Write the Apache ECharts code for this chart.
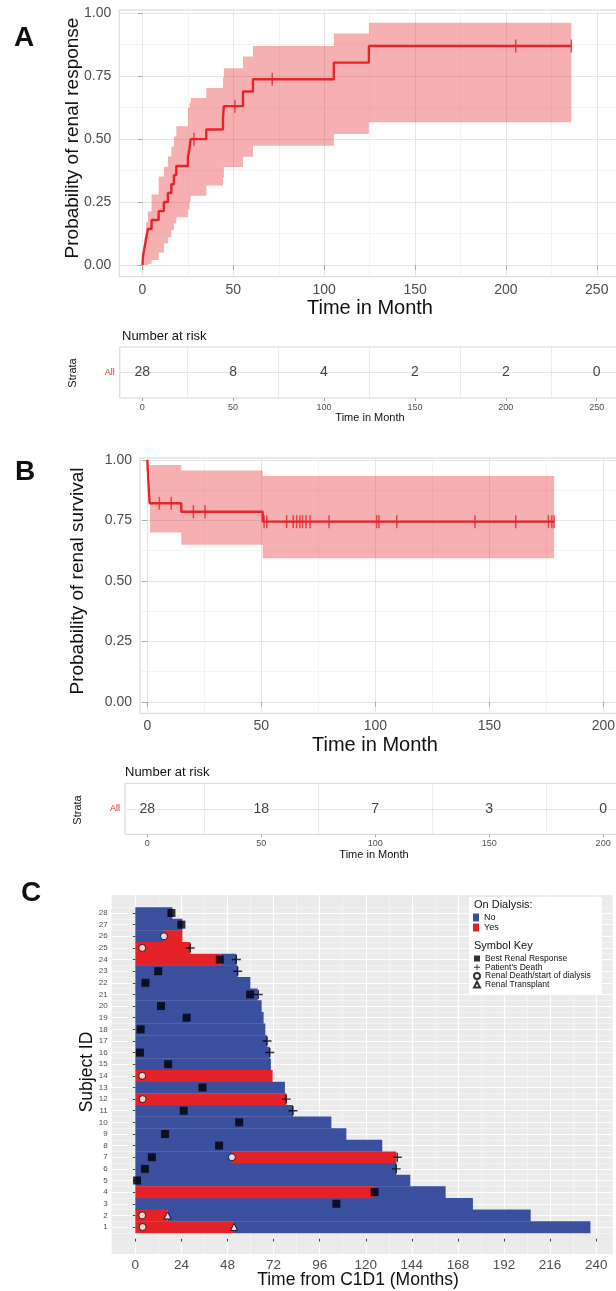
<!DOCTYPE html>
<html><head><meta charset="utf-8">
<script src="https://cdn.jsdelivr.net/npm/echarts@6/dist/echarts.min.js"></script>
<style>html,body{margin:0;padding:0;background:#fff}#c{width:616px;height:1291px}</style>
</head><body><div id="c"></div>
<script>
// ---------- Panel A: renal response (cumulative) ----------
const aTimes = [0, 0.3, 1.2, 2.0, 3.0, 5.0, 8.9, 11.8, 14.0, 15.9, 17.3, 18.6, 25.0, 25.9, 26.5, 35.1, 44.3, 44.8, 55.3, 60.8, 105.3, 124.6, 236];
const aProb  = [0, 0.036, 0.071, 0.107, 0.143, 0.179, 0.214, 0.25, 0.286, 0.321, 0.357, 0.393, 0.429, 0.464, 0.5, 0.538, 0.585, 0.631, 0.689, 0.738, 0.804, 0.87, 0.87];
const aBandTimes = [0.3, 1.2, 2.0, 3.0, 5.0, 8.9, 11.8, 14.0, 15.9, 17.3, 18.6, 25.0, 25.9, 26.5, 35.1, 44.3, 44.8, 55.3, 60.8, 105.3, 124.6, 236];
const aUpper = [0.07, 0.11, 0.17, 0.213, 0.28, 0.352, 0.39, 0.431, 0.471, 0.51, 0.551, 0.624, 0.645, 0.663, 0.703, 0.745, 0.782, 0.828, 0.87, 0.92, 0.962, 0.962];
const aLower = [0, 0, 0, 0.005, 0.02, 0.05, 0.085, 0.11, 0.14, 0.165, 0.19, 0.22, 0.25, 0.275, 0.316, 0.35, 0.389, 0.43, 0.474, 0.52, 0.567, 0.567];
const aCensorTimes = [28.3, 50.9, 71.4, 205.4, 236];
const aCensorProb  = [0.5, 0.631, 0.738, 0.87, 0.87];
const aXTicks = [0, 50, 100, 150, 200, 250];
const aRiskTimes = [0, 50, 100, 150, 200, 250];
const aRiskCounts = [28, 8, 4, 2, 2, 0];

// ---------- Panel B: renal survival ----------
const bTimes = [0, 0.2, 0.4, 0.6, 0.8, 1.0, 14.9, 50.6, 178.4];
const bProb  = [1, 0.964, 0.929, 0.893, 0.857, 0.821, 0.786, 0.745, 0.745];
const bBandTimes = [1.2, 14.9, 50.6, 178.4];
const bUpper = [0.979, 0.956, 0.934, 0.934];
const bLower = [0.70, 0.649, 0.594, 0.594];
const bCensorTimes = [5.3, 10.5, 20.2, 25.3, 51.2, 52.4, 61.1, 64.0, 65.5, 66.9, 68.1, 69.6, 71.4, 79.7, 100.6, 101.6, 109.4, 143.7, 161.6, 175.9, 177.4, 178.4];
const bCensorProb  = [0.821, 0.821, 0.786, 0.786, 0.745, 0.745, 0.745, 0.745, 0.745, 0.745, 0.745, 0.745, 0.745, 0.745, 0.745, 0.745, 0.745, 0.745, 0.745, 0.745, 0.745, 0.745];
const bXTicks = [0, 50, 100, 150, 200];
const bRiskTimes = [0, 50, 100, 150, 200];
const bRiskCounts = [28, 18, 7, 3, 0];

const kmYTicks = [0, 0.25, 0.5, 0.75, 1];
const kmYMinor = [0.125, 0.375, 0.625, 0.875];

// ---------- Panel C: swimmer plot ----------
// [subject, start month, end month]
const cNotOnDialysis = [
  [28, 0, 19.3], [27, 0, 24.5], [26, 0, 14.9], [24, 44.3, 52.6], [23, 0, 53.3], [22, 0, 59.9],
  [21, 0, 63.7], [20, 0, 65.8], [19, 0, 66.8], [18, 0, 67.7], [17, 0, 68.6], [16, 0, 70.0],
  [15, 0, 70.6], [13, 0, 77.9], [11, 0, 82.1], [10, 0, 102.1], [9, 0, 109.9], [8, 0, 128.6],
  [7, 0, 50.3], [6, 0, 135.9], [5, 0, 143.2], [4, 123.8, 161.6], [3, 0, 175.8], [2, 16.8, 205.9],
  [1, 51.4, 237.0]
];
const cOnDialysis = [
  [26, 14.9, 24.5], [25, 0, 28.6], [24, 0, 44.3], [14, 0, 71.5], [12, 0, 78.6],
  [7, 50.3, 135.9], [4, 0, 123.8], [2, 0, 16.8], [1, 0, 51.4]
];
// [month, subject]
const cBestResponse = [[18.8, 28], [24.0, 27], [44.0, 24], [11.9, 23], [5.3, 22], [59.8, 21], [13.4, 20], [26.7, 19], [2.8, 18], [2.4, 16], [17.1, 15], [35.0, 13], [25.2, 11], [54.1, 10], [15.5, 9], [43.6, 8], [8.6, 7], [5.0, 6], [0.9, 5], [124.6, 4], [104.7, 3]];
const cDeath = [[28.6, 25], [52.6, 24], [53.3, 23], [64.0, 21], [68.6, 17], [70.0, 16], [78.6, 12], [82.1, 11], [136.4, 7], [135.9, 6]];
const cRenalDeath = [[14.9, 26], [3.6, 25], [3.6, 14], [3.8, 12], [50.3, 7], [3.6, 2], [3.8, 1]];
const cTransplant = [[16.8, 2], [51.4, 1]];
const cXTicks = [0, 24, 48, 72, 96, 120, 144, 168, 192, 216, 240];
const cXMinor = [12, 36, 60, 84, 108, 132, 156, 180, 204, 228];
const cSubjects = [1,2,3,4,5,6,7,8,9,10,11,12,13,14,15,16,17,18,19,20,21,22,23,24,25,26,27,28];
const cYMinor = [0.5,1.5,2.5,3.5,4.5,5.5,6.5,7.5,8.5,9.5,10.5,11.5,12.5,13.5,14.5,15.5,16.5,17.5,18.5,19.5,20.5,21.5,22.5,23.5,24.5,25.5,26.5,27.5,28.5];

// ---------- styling ----------
const FONT = "'Liberation Sans', Arial, Helvetica, sans-serif";
const RED = '#e4262a';
const BAND = 'rgba(232, 40, 46, 0.37)';
const BLUE = '#3b4f9f';
const DRED = '#e52228';
const GRID = '#e6e6e6';
const GRIDMIN = '#efefef';
const LABEL = '#4d4d4d';

const zip = (a, b) => a.map((v, i) => [v, b[i]]);

function bandRender(times, upper, lower) {
  return function (params, api) {
    if (params.dataIndex !== 0) return null;
    const pts = [];
    for (let i = 0; i < times.length - 1; i++) {
      pts.push(api.coord([times[i], upper[i]]));
      pts.push(api.coord([times[i + 1], upper[i]]));
    }
    for (let i = times.length - 2; i >= 0; i--) {
      pts.push(api.coord([times[i + 1], lower[i]]));
      pts.push(api.coord([times[i], lower[i]]));
    }
    return { type: 'polygon', shape: { points: pts }, style: { fill: BAND } };
  };
}
function segRender(params, api) {
  const y = api.value(0), s = api.value(1), e = api.value(2);
  const a = api.coord([s, y]), b = api.coord([e, y]);
  const h = api.size([0, 1])[1];
  return { type: 'rect', shape: { x: a[0], y: a[1] - h / 2, width: b[0] - a[0], height: h + 0.3 }, style: { fill: api.visual('color') } };
}

function mainX(grid, min, max, ticks) {
  return { gridIndex: grid, type: 'value', min, max, position: 'bottom',
    axisLine: { show: false },
    axisTick: { show: true, length: 5, lineStyle: { color: '#aaaaaa' }, customValues: ticks },
    axisLabel: { customValues: ticks, fontSize: 14, color: LABEL, margin: 6, fontFamily: FONT },
    splitLine: { show: true, lineStyle: { color: GRID, width: 1 } } };
}
function minorX(grid, min, max, vals, color, width) {
  return { gridIndex: grid, type: 'value', min, max, position: 'top',
    axisLine: { show: false }, axisTick: { show: false, customValues: vals }, axisLabel: { show: false },
    splitLine: { show: true, lineStyle: { color, width } } };
}
function mainY(grid, min, max) {
  return { gridIndex: grid, type: 'value', min, max, position: 'left',
    axisLine: { show: false },
    axisTick: { show: true, length: 5, lineStyle: { color: '#aaaaaa' }, customValues: kmYTicks },
    axisLabel: { customValues: kmYTicks, fontSize: 14, color: LABEL, margin: 8, fontFamily: FONT, formatter: v => v.toFixed(2) },
    splitLine: { show: true, lineStyle: { color: GRID, width: 1 } } };
}
function minorY(grid, min, max, vals, color, width) {
  return { gridIndex: grid, type: 'value', min, max, position: 'right',
    axisLine: { show: false }, axisTick: { show: false, customValues: vals }, axisLabel: { show: false },
    splitLine: { show: true, lineStyle: { color, width } } };
}
function riskX(grid, min, max, ticks) {
  return { gridIndex: grid, type: 'value', min, max, position: 'bottom',
    axisLine: { show: false },
    axisTick: { show: true, length: 3, lineStyle: { color: '#aaaaaa' }, customValues: ticks },
    axisLabel: { customValues: ticks, fontSize: 9, color: LABEL, margin: 5, fontFamily: FONT },
    splitLine: { show: false } };
}
function riskY(grid) {
  return { gridIndex: grid, type: 'value', min: 0, max: 2, position: 'left',
    axisLine: { show: false },
    axisTick: { show: true, length: 3, lineStyle: { color: '#aaaaaa' }, customValues: [1] },
    axisLabel: { customValues: [1], fontSize: 9, color: RED, margin: 5, fontFamily: FONT, formatter: () => 'All' },
    splitLine: { show: true, lineStyle: { color: GRID, width: 1 } } };
}

const gridBase = { show: true, backgroundColor: '#fff', borderColor: '#d4d4d4', borderWidth: 1, containLabel: false, outerBoundsMode: 'none' };

const option = {
  animation: false,
  textStyle: { fontFamily: FONT },
  grid: [
    Object.assign({}, gridBase, { left: 119.3, top: 10, width: 500, height: 266.7 }),   // A plot
    Object.assign({}, gridBase, { left: 119.8, top: 347, width: 500, height: 51 }),     // A risk
    Object.assign({}, gridBase, { left: 140, top: 458, width: 480, height: 255.3 }),    // B plot
    Object.assign({}, gridBase, { left: 125, top: 783.3, width: 495, height: 51 }),     // B risk
    { show: true, backgroundColor: '#ebebeb', borderWidth: 0, left: 111.7, top: 895, width: 501, height: 359, containLabel: false, outerBoundsMode: 'none' } // C
  ],
  xAxis: [
    mainX(0, -12.76, 262.4, aXTicks),
    minorX(0, -12.76, 262.4, [25, 75, 125, 175, 225], GRIDMIN, 0.7),
    riskX(1, -12.3, 262.7, aXTicks),
    minorX(1, -12.3, 262.7, [25, 75, 125, 175, 225], GRID, 0.8),
    mainX(2, -3.2, 207.3, bXTicks),
    minorX(2, -3.2, 207.3, [25, 75, 125, 175], GRIDMIN, 0.7),
    riskX(3, -9.74, 207.4, bXTicks),
    minorX(3, -9.74, 207.4, [25, 75, 125, 175], GRID, 0.8),
    { gridIndex: 4, type: 'value', min: -12.3, max: 248.6, position: 'bottom',
      axisLine: { show: false },
      axisTick: { show: true, length: 3, lineStyle: { color: '#444' }, customValues: cXTicks },
      axisLabel: { customValues: cXTicks, fontSize: 13.5, color: LABEL, margin: 4, fontFamily: FONT },
      splitLine: { show: true, lineStyle: { color: '#ffffff', width: 1.1 } } },
    minorX(4, -12.3, 248.6, cXMinor, '#f8f8f8', 0.6)
  ],
  yAxis: [
    mainY(0, -0.0465, 1.013),
    minorY(0, -0.0465, 1.013, kmYMinor, GRIDMIN, 0.7),
    riskY(1),
    mainY(2, -0.047, 1.008),
    minorY(2, -0.047, 1.008, kmYMinor, GRIDMIN, 0.7),
    riskY(3),
    { gridIndex: 4, type: 'value', min: -1.32, max: 29.55, position: 'left',
      axisLine: { show: false },
      axisTick: { show: true, length: 2.5, lineStyle: { color: '#444' }, customValues: cSubjects },
      axisLabel: { customValues: cSubjects, fontSize: 8, color: LABEL, margin: 4, fontFamily: FONT },
      splitLine: { show: true, lineStyle: { color: '#ffffff', width: 1.1 } } },
    minorY(4, -1.32, 29.55, cYMinor, '#f8f8f8', 0.6)
  ],
  legend: [
    { orient: 'vertical', left: 473, top: 913, itemWidth: 6, itemHeight: 8, itemGap: 1, padding: 0, selectedMode: false, z: 20,
      textStyle: { fontSize: 9, color: '#111', fontFamily: FONT, lineHeight: 8 },
      data: [{ name: 'No', icon: 'rect' }, { name: 'Yes', icon: 'rect' }] },
    { orient: 'vertical', left: 473, top: 954, itemWidth: 6, itemHeight: 6, itemGap: -0.3, padding: 0, selectedMode: false, z: 20,
      textStyle: { fontSize: 8.5, color: '#111', fontFamily: FONT, lineHeight: 6.5 },
      data: ['Best Renal Response', "Patient's Death", 'Renal Death/start of dialysis', 'Renal Transplant'] }
  ],
  series: [
    // ---- A ----
    { type: 'custom', name: 'A band', xAxisIndex: 0, yAxisIndex: 0, renderItem: bandRender(aBandTimes, aUpper, aLower),
      data: aBandTimes.map((t, i) => [t, aLower[i], aUpper[i]]), encode: { x: 0, y: [1, 2] }, silent: true, z: 2 },
    { type: 'line', name: 'A curve', xAxisIndex: 0, yAxisIndex: 0, step: 'end', showSymbol: false, symbol: 'none',
      data: zip(aTimes, aProb), lineStyle: { color: RED, width: 2.4 }, z: 3, silent: true },
    { type: 'scatter', name: 'A censor', xAxisIndex: 0, yAxisIndex: 0, symbol: 'rect', symbolSize: [1.5, 13],
      itemStyle: { color: RED }, data: zip(aCensorTimes, aCensorProb), z: 4, silent: true },
    { type: 'scatter', name: 'A risk', xAxisIndex: 2, yAxisIndex: 2, symbolSize: 1, itemStyle: { color: 'transparent' },
      data: aRiskTimes.map((t, i) => [t, 1, aRiskCounts[i]]), silent: true,
      label: { show: true, position: 'inside', formatter: p => p.value[2], fontSize: 14, color: '#111', fontFamily: FONT } },
    // ---- B ----
    { type: 'custom', name: 'B band', xAxisIndex: 4, yAxisIndex: 3, renderItem: bandRender(bBandTimes, bUpper, bLower),
      data: bBandTimes.map((t, i) => [t, bLower[i], bUpper[i]]), encode: { x: 0, y: [1, 2] }, silent: true, z: 2 },
    { type: 'line', name: 'B curve', xAxisIndex: 4, yAxisIndex: 3, step: 'end', showSymbol: false, symbol: 'none',
      data: zip(bTimes, bProb), lineStyle: { color: RED, width: 2.4 }, z: 3, silent: true },
    { type: 'scatter', name: 'B censor', xAxisIndex: 4, yAxisIndex: 3, symbol: 'rect', symbolSize: [1.5, 13],
      itemStyle: { color: RED }, data: zip(bCensorTimes, bCensorProb), z: 4, silent: true },
    { type: 'scatter', name: 'B risk', xAxisIndex: 6, yAxisIndex: 5, symbolSize: 1, itemStyle: { color: 'transparent' },
      data: bRiskTimes.map((t, i) => [t, 1, bRiskCounts[i]]), silent: true,
      label: { show: true, position: 'inside', formatter: p => p.value[2], fontSize: 14, color: '#111', fontFamily: FONT } },
    // ---- C ----
    { type: 'custom', name: 'No', xAxisIndex: 8, yAxisIndex: 6, renderItem: segRender, itemStyle: { color: BLUE },
      data: cNotOnDialysis, encode: { x: [1, 2], y: 0 }, z: 2, silent: true },
    { type: 'custom', name: 'Yes', xAxisIndex: 8, yAxisIndex: 6, renderItem: segRender, itemStyle: { color: DRED },
      data: cOnDialysis, encode: { x: [1, 2], y: 0 }, z: 2, silent: true },
    { type: 'scatter', name: 'Best Renal Response', xAxisIndex: 8, yAxisIndex: 6, symbol: 'rect', symbolSize: 8,
      itemStyle: { color: '#000' }, data: cBestResponse, z: 5, silent: true },
    { type: 'scatter', name: "Patient's Death", xAxisIndex: 8, yAxisIndex: 6,
      symbol: 'path://M4.2,0h1.6v4.2h4.2v1.6h-4.2v4.2h-1.6v-4.2h-4.2v-1.6h4.2z', symbolSize: 9,
      itemStyle: { color: '#000' }, data: cDeath, z: 5, silent: true },
    { type: 'scatter', name: 'Renal Death/start of dialysis', xAxisIndex: 8, yAxisIndex: 6, symbol: 'circle', symbolSize: 7,
      itemStyle: { color: '#fff', borderColor: '#000', borderWidth: 1 }, data: cRenalDeath, z: 5, silent: true },
    { type: 'scatter', name: 'Renal Transplant', xAxisIndex: 8, yAxisIndex: 6, symbol: 'triangle', symbolSize: 7,
      itemStyle: { color: '#fff', borderColor: '#000', borderWidth: 1 }, data: cTransplant, z: 5, silent: true }
  ],
  graphic: [
    { type: 'text', x: 24, y: 38, style: { text: 'A', font: 'bold 28px ' + FONT, fill: '#111', textAlign: 'center', align: 'center', textVerticalAlign: 'middle', verticalAlign: 'middle' } },
    { type: 'text', x: 25, y: 472, style: { text: 'B', font: 'bold 28px ' + FONT, fill: '#111', textAlign: 'center', align: 'center', textVerticalAlign: 'middle', verticalAlign: 'middle' } },
    { type: 'text', x: 31, y: 893, style: { text: 'C', font: 'bold 28px ' + FONT, fill: '#111', textAlign: 'center', align: 'center', textVerticalAlign: 'middle', verticalAlign: 'middle' } },
    { type: 'text', x: 73, y: 138, rotation: Math.PI / 2, style: { text: 'Probability of renal response', font: '19px ' + FONT, fill: '#111', textAlign: 'center', align: 'center', textVerticalAlign: 'middle', verticalAlign: 'middle' } },
    { type: 'text', x: 370, y: 308, style: { text: 'Time in Month', font: '20px ' + FONT, fill: '#111', textAlign: 'center', align: 'center', textVerticalAlign: 'middle', verticalAlign: 'middle' } },
    { type: 'text', x: 122, y: 336, style: { text: 'Number at risk', font: '13px ' + FONT, fill: '#111', textAlign: 'left', align: 'left', textVerticalAlign: 'middle', verticalAlign: 'middle' } },
    { type: 'text', x: 72.7, y: 373, rotation: Math.PI / 2, style: { text: 'Strata', font: '11px ' + FONT, fill: '#111', textAlign: 'center', align: 'center', textVerticalAlign: 'middle', verticalAlign: 'middle' } },
    { type: 'text', x: 370, y: 418, style: { text: 'Time in Month', font: '11px ' + FONT, fill: '#111', textAlign: 'center', align: 'center', textVerticalAlign: 'middle', verticalAlign: 'middle' } },
    { type: 'text', x: 78, y: 581, rotation: Math.PI / 2, style: { text: 'Probability of renal survival', font: '19px ' + FONT, fill: '#111', textAlign: 'center', align: 'center', textVerticalAlign: 'middle', verticalAlign: 'middle' } },
    { type: 'text', x: 375, y: 745, style: { text: 'Time in Month', font: '20px ' + FONT, fill: '#111', textAlign: 'center', align: 'center', textVerticalAlign: 'middle', verticalAlign: 'middle' } },
    { type: 'text', x: 125, y: 772, style: { text: 'Number at risk', font: '13px ' + FONT, fill: '#111', textAlign: 'left', align: 'left', textVerticalAlign: 'middle', verticalAlign: 'middle' } },
    { type: 'text', x: 77.8, y: 810, rotation: Math.PI / 2, style: { text: 'Strata', font: '11px ' + FONT, fill: '#111', textAlign: 'center', align: 'center', textVerticalAlign: 'middle', verticalAlign: 'middle' } },
    { type: 'text', x: 374, y: 855, style: { text: 'Time in Month', font: '11px ' + FONT, fill: '#111', textAlign: 'center', align: 'center', textVerticalAlign: 'middle', verticalAlign: 'middle' } },
    { type: 'text', x: 87, y: 1072, rotation: Math.PI / 2, style: { text: 'Subject ID', font: '17.5px ' + FONT, fill: '#111', textAlign: 'center', align: 'center', textVerticalAlign: 'middle', verticalAlign: 'middle' } },
    { type: 'text', x: 358, y: 1280, style: { text: 'Time from C1D1 (Months)', font: '17.5px ' + FONT, fill: '#111', textAlign: 'center', align: 'center', textVerticalAlign: 'middle', verticalAlign: 'middle' } },
    { type: 'rect', z: 1, shape: { x: 469, y: 897, width: 133, height: 97 }, style: { fill: '#ffffff' } },
    { type: 'text', z: 11, x: 474, y: 905, style: { text: 'On Dialysis:', font: '11px ' + FONT, fill: '#111', textAlign: 'left', align: 'left', textVerticalAlign: 'middle', verticalAlign: 'middle' } },
    { type: 'text', z: 11, x: 474, y: 946, style: { text: 'Symbol Key', font: '11px ' + FONT, fill: '#111', textAlign: 'left', align: 'left', textVerticalAlign: 'middle', verticalAlign: 'middle' } }
  ]
};
const chart = echarts.init(document.getElementById('c'), null, { renderer: 'canvas' });
chart.setOption(option);
</script></body></html>
